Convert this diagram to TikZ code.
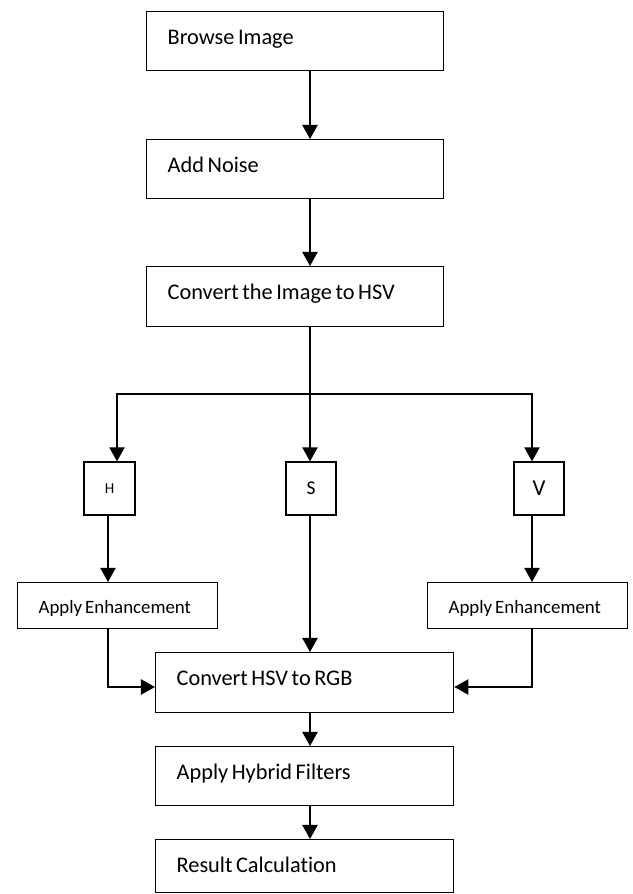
\documentclass[tikz,border=0pt]{standalone}
\usepackage{fontspec}
\setmainfont{Carlito}[Ligatures=NoCommon]
\usepackage{tikz}
\usepackage{xcolor}
\usetikzlibrary{arrows.meta}
\usetikzlibrary{calc}
\tikzset{>=latex}
\colorlet{myline}{black}
\def\u{0.4614pt}
\tikzstyle{myarr}=[myline,line width=0.9pt,-{Triangle[length=6.5pt,width=7pt]}]
\tikzstyle{mybox}=[draw=myline,line width=0.6pt,anchor=north west,align=left,
	inner ysep=0pt,inner xsep=21*\u,text height=33*\u,font=\fontsize{10.3}{12}\selectfont,
	execute at begin node={\spaceskip=0.16em plus 0.05em\relax}]
\tikzstyle{mysmallbox}=[draw=myline,line width=0.6pt,minimum width=51*\u,
	minimum height=53*\u,inner sep=0pt]

\begin{document}
\begin{tikzpicture}[x=\u,y=-\u]
		\message{Flow chart, HSV enhancement^^J}
		
		\useasboundingbox (0,0) rectangle (633,894);
		
		\coordinate (X) at (310,0);    % main axis
		\coordinate (HX) at (117,0);   % into H
		\coordinate (HO) at (108,0);   % out of H
		\coordinate (VX) at (532,0);   % V branch
		\coordinate (F) at (310,394);  % fork
		\coordinate (J) at (0,687);    % join height
		
		% BOXES
		\node[mybox,text width=255*\u,text depth=26*\u] (browse) at (146,11) {Browse Image};
		\node[mybox,text width=255*\u,text depth=26*\u] (noise) at (146,139) {Add Noise};
		\node[mybox,text width=255*\u,text depth=27*\u] (tohsv) at (146,266) {Convert the Image to HSV};
		
		\node[mysmallbox,font=\fontsize{7}{8}\selectfont] (hbox) at (109.5,488.5) {H};
		\node[mysmallbox,font=\fontsize{9}{10}\selectfont,minimum width=50*\u] (sbox) at (311,488.5) {S};
		\node[mysmallbox,font=\fontsize{10.5}{12}\selectfont,minimum width=50*\u] (vbox) at (539,488.5) {V};
		
		\node[mybox,text width=158*\u,text height=31*\u,text depth=15*\u,
		font=\fontsize{8.7}{10}\selectfont] (enhH) at (17,582) {Apply Enhancement};
		\node[mybox,text width=158*\u,text height=31*\u,text depth=15*\u,
		font=\fontsize{8.7}{10}\selectfont] (enhV) at (427,582) {Apply Enhancement};
		
		\node[mybox,text width=256*\u,text depth=27*\u] (rgb) at (155,652) {Convert HSV to RGB};
		\node[mybox,text width=256*\u,text depth=26*\u] (hybrid) at (155,746) {Apply Hybrid Filters};
		\node[mybox,text width=256*\u,text depth=20*\u] (result) at (155,839) {Result Calculation};
		
		% ARROWS
		\draw[myarr] (browse.south -| X) -- (noise.north -| X);
		\draw[myarr] (noise.south -| X) -- (tohsv.north -| X);
		\draw[myline,line width=0.9pt] (tohsv.south -| X) -- (F);
		\draw[myarr] (F) -| (hbox.north -| HX);
		\draw[myarr] (F) -- (sbox.north -| X);
		\draw[myarr] (F) -| (vbox.north -| VX);
		
		\draw[myarr] (hbox.south -| HO) -- (enhH.north -| HO);
		\draw[myarr] (vbox.south -| VX) -- (enhV.north -| VX);
		\draw[myarr] (sbox.south -| X) -- (rgb.north -| X);
		\draw[myarr] (enhH.south -| HO) |- (rgb.west |- J);
		\draw[myarr] (enhV.south -| VX) |- (rgb.east |- J);
		
		\draw[myarr] (rgb.south -| X) -- (hybrid.north -| X);
		\draw[myarr] (hybrid.south -| X) -- (result.north -| X);
		
	\end{tikzpicture}
\end{document}
